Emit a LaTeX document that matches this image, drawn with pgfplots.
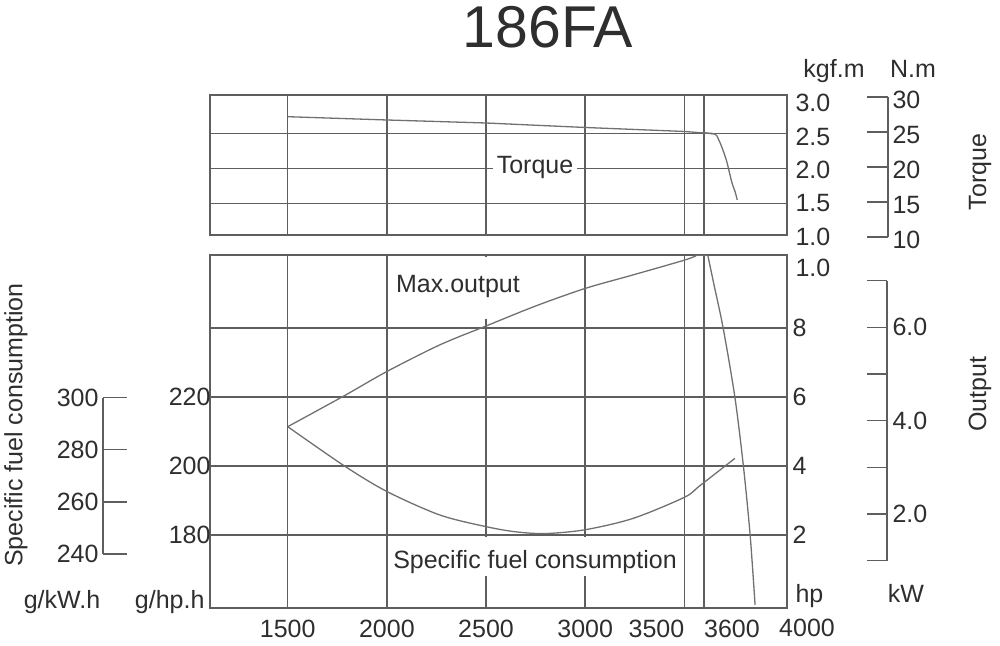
\documentclass[border=0pt]{standalone}
\usepackage{pgfplots}
\usepackage{pgfplotstable}
\pgfplotsset{compat=1.18}
\usepackage{fontspec}
\setmainfont{Liberation Sans}
\definecolor{gridc}{HTML}{5E5E5E}
\definecolor{curvec}{HTML}{707070}
\definecolor{txt}{HTML}{2E2E2E}
\newcommand{\fs}{\fontsize{25}{30}\selectfont}

% Torque (kgf.m) vs engine speed (rpm)
\pgfplotstableread{
rpm kgfm
1500 2.740
2000 2.693
2500 2.650
3000 2.586
3500 2.529
3600 2.507
3655 2.493
3672 2.420
3690 2.300
3714 2.100
3739 1.810
3756 1.670
3767 1.550
}\torque

% Max. output (hp)
\pgfplotstableread{
rpm hp
1500 5.14
1786 6.04
2000 6.74
2266 7.51
2500 8.06
2750 8.64
3000 9.15
3240 9.54
3500 9.97
3560 10.10
3619 10.10
3650 9.25
3696 8.00
3755 6.00
3798 4.00
3832 2.00
3857 -0.03
}\maxout

% Specific fuel consumption (g/hp.h)
\pgfplotstableread{
rpm gph
1500 211.4
1786 200.0
2000 192.6
2266 185.8
2500 182.4
2650 180.9
2800 180.4
3000 181.5
3242 184.8
3500 190.9
3579 194.3
3755 202.2
}\sfc

\pgfplotsset{
  base/.style={
    scale only axis, width=577pt, anchor=south west,
    xmin=1108, xmax=4018,
    axis line style={gridc, line width=1.8pt},
    major tick length=0pt,
    xtick={1500,2000,2500,3000,3500,3600},
    scaled ticks=false,
    tick label style={font=\fs, text=txt},
    /pgf/number format/assume math mode=true,
    clip=false,
  },
  gridded/.style={grid=major, grid style={gridc, line width=1.5pt}},
  curve/.style={curvec, line width=1.3pt, no marks},
  bracket/.style={
    scale only axis, width=30pt,
    xmin=0, xmax=1, hide x axis,
    axis line style={gridc, line width=1.3pt},
    tick style={gridc, line width=1.3pt},
    tick align=inside,
    tick label style={font=\fs, text=txt},
    /pgf/number format/assume math mode=true,
  },
}

\begin{document}
\begin{tikzpicture}
\path[use as bounding box] (0pt,0pt) rectangle (1000pt,645pt);

% ---- top panel: torque
\begin{axis}[base, gridded, at={(210pt,410pt)}, height=140pt,
  ymin=1.05, ymax=3.05, ytick={1.5,2,2.5},
  xticklabels={}, yticklabels={}]
\addplot[curve, restrict x to domain=1500:3655] table[x=rpm,y=kgfm]{\torque};
\addplot[curve, smooth, restrict x to domain=3600:3800] table[x=rpm,y=kgfm]{\torque};
\end{axis}

% ---- bottom panel: output (hp)
\begin{axis}[base, gridded, at={(210pt,37pt)}, height=353pt,
  ymin=-0.12, ymax=10.12, ytick={2,4,6,8}, yticklabels={2,4,6,8},
  yticklabel pos=right, yticklabel style={xshift=2pt},
  xticklabels={1500,2000,2500,3000,\llap{3500},\rlap{3600}},
  xticklabel style={yshift=-9pt}]
\addplot[curve, smooth, restrict x to domain=1500:3560] table[x=rpm,y=hp]{\maxout};
\addplot[curve, restrict x to domain=3560:3619] table[x=rpm,y=hp]{\maxout};
\addplot[curve, smooth, restrict x to domain=3619:3900] table[x=rpm,y=hp]{\maxout};
\end{axis}

% ---- bottom panel overlay: specific fuel consumption (g/hp.h)
\begin{axis}[base, at={(210pt,37pt)}, height=353pt,
  ymin=158.8, ymax=261.2, hide x axis, axis y line*=left,
  ytick={180,200,220}, yticklabels={180,200,220},
  yticklabel style={xshift=4pt}]
\addplot[curve, smooth] table[x=rpm,y=gph]{\sfc};
\end{axis}

% ---- N.m scale
\begin{axis}[bracket, at={(888pt,408pt)}, anchor=south east, height=140pt,
  ymin=10, ymax=30, axis y line*=right, ytick={10,15,20,25,30},
  yticklabels={10,15,20,25,30}, major tick length=21pt,
  yticklabel style={xshift=1pt, yshift=-3pt}]
\end{axis}

% ---- kW scale
\begin{axis}[bracket, at={(887pt,84.3pt)}, anchor=south east, height=280pt,
  ymin=1, ymax=7, axis y line*=right, ytick={1,2,3,4,5,6,7},
  yticklabels={,2.0,,4.0,,6.0,}, major tick length=20pt,
  yticklabel style={xshift=2pt}]
\end{axis}

% ---- g/kW.h scale
\begin{axis}[bracket, at={(103pt,91pt)}, anchor=south west, height=156.3pt,
  ymin=240, ymax=300, axis y line*=left, ytick={240,260,280,300},
  yticklabels={240,260,280,300}, major tick length=24pt,
  yticklabel style={xshift=-1pt}]
\end{axis}

% ---- gaps in the grid behind the labels
\fill[white] (481pt,387.5pt) rectangle (492pt,326pt);
\fill[white] (481pt,108pt) rectangle (492pt,70pt);
\fill[white] (580pt,108pt) rectangle (591pt,70pt);

% ---- texts
\begin{scope}[every node/.style={text=txt, font=\fs}]
\node[font=\fontsize{59}{70}\selectfont] at (548pt,618pt) {186FA};
\node[anchor=base] at (834pt,567.5pt) {kgf.m};
\node[anchor=base] at (913pt,567.5pt) {N.m};
\node[anchor=west] at (792pt,542pt) {3.0};
\node[anchor=west] at (792pt,508pt) {2.5};
\node[anchor=west] at (792pt,475pt) {2.0};
\node[anchor=west] at (792pt,442pt) {1.5};
\node[anchor=west] at (792pt,408pt) {1.0};
\node[rotate=90] at (980pt,473pt) {Torque};
\node[fill=white, inner xsep=4pt, inner ysep=3pt] at (535pt,478pt) {Torque};
\node[fill=white, inner xsep=3pt, inner ysep=3pt] at (458pt,359pt) {Max.output};
\node[fill=white, inner xsep=1pt, inner ysep=2pt] at (535pt,83pt) {Specific fuel consumption};
\node[anchor=west] at (792pt,377pt) {1.0};
\node[anchor=base west] at (792pt,43pt) {hp};
\node[anchor=base] at (906pt,43pt) {kW};
\node[rotate=90] at (980pt,251pt) {Output};
\node[rotate=90] at (16pt,220pt) {Specific fuel consumption};
\node[anchor=base] at (62pt,37pt) {g/kW.h};
\node[anchor=base east] at (208pt,37pt) {g/hp.h};
\node at (807pt,17pt) {4000};
\end{scope}
\end{tikzpicture}
\end{document}
